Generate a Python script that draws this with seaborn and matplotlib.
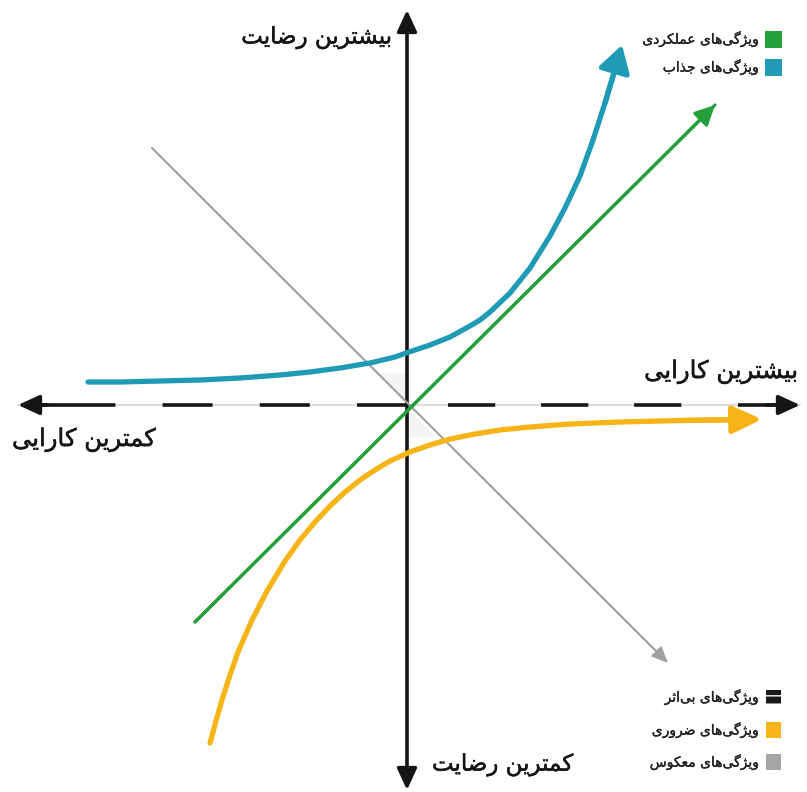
import matplotlib
matplotlib.use('Agg')
import matplotlib.pyplot as plt
import matplotlib.patheffects as pe
import seaborn as sns
from matplotlib.patches import Rectangle, Polygon

# curves (origin = axes crossing, 1 unit ~ 1 px)
attractive_x = [-319, -287, -247, -207, -167, -127, -97, -67, -37, -12, 2, 23, 43, 63, 73, 83,
                103, 123, 143, 158, 173, 186, 198, 208, 215]
attractive_y = [23, 23, 24, 25, 27, 30, 33, 37, 42, 48, 53, 60, 68, 79, 85, 93,
                112, 137, 169, 197, 229, 265, 302, 335, 360]
must_be_x = [-197, -191, -185, -177, -169, -155, -140, -122, -107, -92, -77, -62, -47, -32, -17,
             3, 23, 43, 68, 93, 123, 163, 213, 273, 328, 355]
must_be_y = [-338, -316, -295, -270, -247, -215, -186, -156, -135, -117, -101, -87, -75, -65, -56,
             -47, -40, -34, -29, -25, -22, -19, -17, -15.5, -14.7, -14.3]
performance_x = [-212, 308]
performance_y = [-217, 300]
reverse_x = [-255, 261]
reverse_y = [257, -258]

label_top = 'بیشترین رضایت'
label_bottom = 'کمترین رضایت'
label_right = 'بیشترین کارایی'
label_left = 'کمترین کارایی'
legend_top = ['ویژگی‌های عملکردی', 'ویژگی‌های جذاب']
legend_bottom = ['ویژگی‌های بی‌اثر', 'ویژگی‌های ضروری', 'ویژگی‌های معکوس']

GREEN = '#23a03a'
BLUE = '#1f9bb5'
YELLOW = '#f6b417'
GRAY = '#a0a0a0'
INK = '#151515'

# minimal Persian shaping (matplotlib has no bidi / joining support)
FORMS = {
    'ا': ('\uFE8D', '\uFE8E', None, None),
    'ب': ('\uFE8F', '\uFE90', '\uFE91', '\uFE92'),
    'ت': ('\uFE95', '\uFE96', '\uFE97', '\uFE98'),
    'ث': ('\uFE99', '\uFE9A', '\uFE9B', '\uFE9C'),
    'ج': ('\uFE9D', '\uFE9E', '\uFE9F', '\uFEA0'),
    'د': ('\uFEA9', '\uFEAA', None, None),
    'ذ': ('\uFEAB', '\uFEAC', None, None),
    'ر': ('\uFEAD', '\uFEAE', None, None),
    'ژ': ('\uFB8A', '\uFB8B', None, None),
    'س': ('\uFEB1', '\uFEB2', '\uFEB3', '\uFEB4'),
    'ش': ('\uFEB5', '\uFEB6', '\uFEB7', '\uFEB8'),
    'ض': ('\uFEBD', '\uFEBE', '\uFEBF', '\uFEC0'),
    'ع': ('\uFEC9', '\uFECA', '\uFECB', '\uFECC'),
    'ک': ('\uFB8E', '\uFB8F', '\uFB90', '\uFB91'),
    'گ': ('\uFB92', '\uFB93', '\uFB94', '\uFB95'),
    'ل': ('\uFEDD', '\uFEDE', '\uFEDF', '\uFEE0'),
    'م': ('\uFEE1', '\uFEE2', '\uFEE3', '\uFEE4'),
    'ن': ('\uFEE5', '\uFEE6', '\uFEE7', '\uFEE8'),
    'و': ('\uFEED', '\uFEEE', None, None),
    'ه': ('\uFEE9', '\uFEEA', '\uFEEB', '\uFEEC'),
    'ی': ('\uFBFC', '\uFBFD', '\uFBFE', '\uFBFF'),
}


def farsi(s):
    out = []
    for i, c in enumerate(s):
        if c not in FORMS:
            if c != '\u200c':
                out.append(c)
            continue
        prev = s[i - 1] if i > 0 else ''
        nxt = s[i + 1] if i + 1 < len(s) else ''
        join_prev = prev in FORMS and FORMS[prev][2] is not None
        join_next = nxt in FORMS and FORMS[c][2] is not None
        iso, fin, ini, med = FORMS[c]
        if join_prev and join_next:
            out.append(med)
        elif join_prev:
            out.append(fin)
        elif join_next:
            out.append(ini)
        else:
            out.append(iso)
    return ''.join(out[::-1])


sns.set_theme(style='white')
plt.rcParams['font.family'] = ['DejaVu Sans']
plt.rcParams['lines.scale_dashes'] = False

fig = plt.figure(figsize=(8.07, 7.92), dpi=100)
ax = fig.add_axes([0, 0, 1, 1])
ax.set_xlim(-407, 400)
ax.set_ylim(-387, 405)
ax.axis('off')

# faint wedges near the origin
ax.add_patch(Polygon([(0, 3), (0, 32), (-29, 32)], closed=True, facecolor='#f4f4f4', edgecolor='none', zorder=0))
ax.add_patch(Polygon([(0, -3), (0, -32), (29, -32)], closed=True, facecolor='#f4f4f4', edgecolor='none', zorder=0))

# horizontal axis: gray base with black dashes
ax.plot([-389, 393], [0, 0], color='#dcdcdc', lw=1.5, zorder=1)
ax.plot([0, -339], [0, 0], color=INK, lw=2.6, dashes=(36, 34), solid_capstyle='butt', zorder=2)
ax.plot([41, 290], [0, 0], color=INK, lw=2.6, dashes=(34, 33), solid_capstyle='butt', zorder=2)
ax.plot([-339, -380], [0, 0], color=INK, lw=2.6, solid_capstyle='butt', zorder=2)
ax.plot([331, 380], [0, 0], color=INK, lw=2.6, solid_capstyle='butt', zorder=2)
axis_arrow = dict(arrowstyle='-|>,head_length=0.65,head_width=0.3', color=INK, lw=2.6,
                  mutation_scale=20, shrinkA=0, shrinkB=0)
ax.annotate('', xy=(-389, 0), xytext=(-360, 0), arrowprops=axis_arrow, zorder=3)
ax.annotate('', xy=(393, 0), xytext=(360, 0), arrowprops=axis_arrow, zorder=3)

# vertical axis
ax.annotate('', xy=(0, 395), xytext=(0, -385),
            arrowprops=dict(axis_arrow, arrowstyle='<|-|>,head_length=0.65,head_width=0.3'), zorder=3)

# reverse features (gray)
sns.lineplot(x=reverse_x[:-1] + [reverse_x[-1] - 6], y=reverse_y[:-1] + [reverse_y[-1] + 6],
             sort=False, estimator=None, color=GRAY, lw=1.3, ax=ax, zorder=4)
ax.annotate('', xy=(reverse_x[-1], reverse_y[-1]), xytext=(reverse_x[-2], reverse_y[-2]),
            arrowprops=dict(arrowstyle='-|>,head_length=0.5,head_width=0.22', color=GRAY, lw=1.3,
                            mutation_scale=20, shrinkA=0, shrinkB=0), zorder=4)

# performance features (green)
sns.lineplot(x=performance_x, y=performance_y, sort=False, estimator=None,
             color=GREEN, lw=2.3, ax=ax, zorder=5)
ax.annotate('', xy=(performance_x[-1], performance_y[-1]), xytext=(performance_x[0], performance_y[0]),
            arrowprops=dict(arrowstyle='-|>,head_length=0.6,head_width=0.3', color=GREEN, lw=2.3,
                            mutation_scale=20, shrinkA=0, shrinkB=0), zorder=5)

# attractive features (blue)
sns.lineplot(x=attractive_x[:-1], y=attractive_y[:-1], sort=False, estimator=None,
             color=BLUE, lw=3.8, ax=ax, zorder=6)
ax.lines[-1].set_solid_capstyle('round')
ax.lines[-1].set_solid_joinstyle('round')
ax.annotate('', xy=(attractive_x[-1], attractive_y[-1]), xytext=(attractive_x[-3], attractive_y[-3]),
            arrowprops=dict(arrowstyle='-|>,head_length=0.8,head_width=0.48', color=BLUE, lw=3.8,
                            mutation_scale=20, shrinkA=0, shrinkB=0), zorder=6)

# must-be features (yellow)
sns.lineplot(x=must_be_x[:-1], y=must_be_y[:-1], sort=False, estimator=None,
             color=YELLOW, lw=3.8, ax=ax, zorder=6)
ax.lines[-1].set_solid_capstyle('round')
ax.lines[-1].set_solid_joinstyle('round')
ax.annotate('', xy=(must_be_x[-1], must_be_y[-1]), xytext=(must_be_x[-3], must_be_y[-3]),
            arrowprops=dict(arrowstyle='-|>,head_length=0.9,head_width=0.42', color=YELLOW, lw=3.8,
                            mutation_scale=20, shrinkA=0, shrinkB=0), zorder=6)

# axis labels
bold = [pe.withStroke(linewidth=0.35, foreground=INK)]
ax.text(-15, 367, farsi(label_top), ha='right', va='center', fontsize=16.5, color=INK, path_effects=bold)
ax.text(25, -360, farsi(label_bottom), ha='left', va='center', fontsize=16.5, color=INK, path_effects=bold)
ax.text(391, 33, farsi(label_right), ha='right', va='center', fontsize=17.5, color=INK, path_effects=bold)
ax.text(-395, -35, farsi(label_left), ha='left', va='center', fontsize=17.5, color=INK, path_effects=bold)

# legends (drawn by hand as in the picture)
small_bold = [pe.withStroke(linewidth=0.25, foreground='#222222')]
top_colors = [GREEN, BLUE]
top_rows = [366, 338]
for name, col, yy in zip(legend_top, top_colors, top_rows):
    ax.add_patch(Rectangle((358, yy - 8.5), 17, 17, facecolor=col, edgecolor='none'))
    ax.text(352, yy, farsi(name), ha='right', va='center', fontsize=10, color='#222222',
            path_effects=small_bold)

bottom_colors = ['#1a1a1a', YELLOW, '#a5a5a5']
bottom_rows = [-292, -325, -357]
for name, col, yy in zip(legend_bottom, bottom_colors, bottom_rows):
    if name == legend_bottom[0]:
        ax.add_patch(Rectangle((359, yy - 7), 15, 14, facecolor=col, edgecolor='white',
                               hatch='--', lw=0))
    else:
        ax.add_patch(Rectangle((359, yy - 8), 15, 16, facecolor=col, edgecolor='none'))
    ax.text(352, yy, farsi(name), ha='right', va='center', fontsize=10, color='#222222',
            path_effects=small_bold)

fig.savefig('out.png', dpi=100, facecolor='white')
